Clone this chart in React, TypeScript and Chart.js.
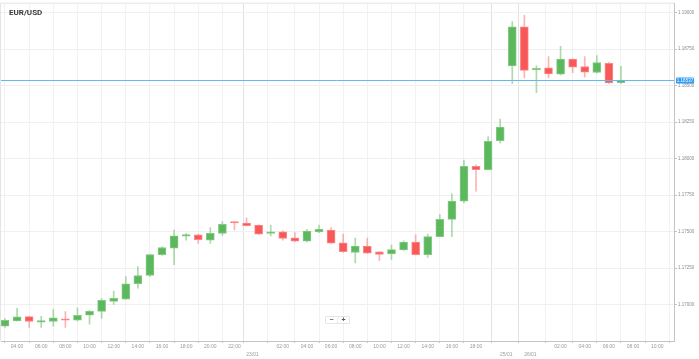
import React, { useEffect, useRef } from "react";
import { Chart, registerables } from "chart.js";

Chart.register(...registerables);

// Hourly candles (22/01 03:00 -> 26/01 07:00, weekend gap removed)
const times = [
  "03:00", "04:00", "05:00", "06:00", "07:00", "08:00", "09:00", "10:00", "11:00", "12:00",
  "13:00", "14:00", "15:00", "16:00", "17:00", "18:00", "19:00", "20:00", "21:00", "22:00", "23:00",
  "00:00", "01:00", "02:00", "03:00", "04:00", "05:00", "06:00", "07:00", "08:00", "09:00",
  "10:00", "11:00", "12:00", "13:00", "14:00", "15:00", "16:00", "17:00", "18:00", "19:00", "20:00",
  "22:00", "23:00",
  "00:00", "01:00", "02:00", "03:00", "04:00", "05:00", "06:00", "07:00",
];

const opens = [
  1.16853, 1.16889, 1.16918, 1.1688, 1.16884, 1.16902, 1.16893, 1.16927, 1.16954, 1.17022,
  1.17038, 1.17143, 1.17199, 1.17342, 1.17387, 1.17469, 1.17478, 1.17442, 1.17487, 1.17566, 1.17559,
  1.17544, 1.17487, 1.17498, 1.17457, 1.17435, 1.17498, 1.1751, 1.17423, 1.17357, 1.17401,
  1.17362, 1.17347, 1.17374, 1.17428, 1.17342, 1.17466, 1.17584, 1.17709, 1.17947, 1.17924, 1.18123,
  1.18635, 1.18903,
  1.18608, 1.18622, 1.18579, 1.18681, 1.18631, 1.1859, 1.18653, 1.1852,
];
const highs = [
  1.16905, 1.16975, 1.1692, 1.1692, 1.16966, 1.16952, 1.16977, 1.16961, 1.17041, 1.17092,
  1.17192, 1.1726, 1.17345, 1.17395, 1.1751, 1.17489, 1.17483, 1.17527, 1.17568, 1.17568, 1.17595,
  1.17546, 1.17544, 1.17505, 1.17493, 1.17516, 1.17544, 1.17527, 1.17483, 1.17455, 1.17455,
  1.17364, 1.17408, 1.17437, 1.17478, 1.17483, 1.17618, 1.17758, 1.1799, 1.17958, 1.18151, 1.18271,
  1.18939, 1.18982,
  1.18638, 1.18699, 1.18769, 1.18683, 1.18699, 1.18706, 1.1866, 1.18633,
];
const lows = [
  1.16844, 1.16886, 1.16844, 1.16844, 1.16853, 1.16844, 1.16889, 1.16866, 1.16905, 1.17002,
  1.17036, 1.17113, 1.17192, 1.17336, 1.17274, 1.17442, 1.17419, 1.17419, 1.17473, 1.17512, 1.17537,
  1.1748, 1.17471, 1.17442, 1.1743, 1.1743, 1.17493, 1.17419, 1.17357, 1.17285, 1.1735,
  1.17301, 1.1731, 1.17371, 1.1734, 1.17323, 1.17464, 1.17466, 1.17697, 1.17777, 1.1792, 1.18105,
  1.18513, 1.18552,
  1.18452, 1.18552, 1.18572, 1.18588, 1.18558, 1.18586, 1.18513, 1.18513,
];
const closes = [
  1.16893, 1.16916, 1.16884, 1.16884, 1.16909, 1.16893, 1.16927, 1.16954, 1.17029, 1.17043,
  1.17143, 1.17199, 1.17342, 1.17391, 1.17471, 1.1748, 1.17444, 1.17489, 1.1755, 1.17559, 1.17541,
  1.17483, 1.17498, 1.17453, 1.17435, 1.17503, 1.17516, 1.17421, 1.17362, 1.17401, 1.17353,
  1.17344, 1.17376, 1.17428, 1.17342, 1.17466, 1.17584, 1.17709, 1.17947, 1.17924, 1.18119, 1.18216,
  1.18903, 1.18604,
  1.18615, 1.18581, 1.18681, 1.18626, 1.18592, 1.18658, 1.18518, 1.18537,
];

// X axis tick labels (positions are candle indices)
const hourTickPositions = [1, 3, 5, 7, 9, 11, 13, 15, 17, 19, 23, 25, 27, 29, 31, 33, 35, 37, 39, 46, 48, 50, 52, 54];
const hourTickLabels = [
  "04:00", "06:00", "08:00", "10:00", "12:00", "14:00", "16:00", "18:00", "20:00", "22:00",
  "02:00", "04:00", "06:00", "08:00", "10:00", "12:00", "14:00", "16:00", "18:00",
  "02:00", "04:00", "06:00", "08:00", "10:00",
];
const dayTickPositions = [20.5, 41.5, 43.5];
const dayTickLabels = ["23/01", "25/01", "26/01"];

const yTicks = [1.17, 1.1725, 1.175, 1.1775, 1.18, 1.1825, 1.185, 1.1875, 1.19];

const UP = "#5cb85c";
const UP_EDGE = "#86c986";
const UP_WICK = "rgba(92,184,92,0.5)";
const DOWN = "#f95858";
const DOWN_EDGE = "#fa8a8a";
const DOWN_WICK = "rgba(249,88,88,0.45)";

export default function App() {
  const canvasRef = useRef<HTMLCanvasElement | null>(null);

  useEffect(() => {
    document.body.style.margin = "0";
    const canvas = canvasRef.current;
    if (!canvas) return;

    const isUp = closes.map((c, i) => c >= opens[i]);
    const lastClose = closes[closes.length - 1];

    const tickMap = new Map<number, string | string[]>();
    hourTickPositions.forEach((p, i) => tickMap.set(p, hourTickLabels[i]));
    dayTickPositions.forEach((p, i) => tickMap.set(p, ["", dayTickLabels[i]]));
    const allTicks = [...hourTickPositions, ...dayTickPositions].sort((a, b) => a - b);

    const framePlugin = {
      id: "frame",
      beforeDraw(chart: any) {
        const { ctx, chartArea } = chart;
        ctx.save();
        ctx.fillStyle = "#ffffff";
        ctx.fillRect(0, 0, chart.width, chart.height);
        ctx.strokeStyle = "#e4e4e4";
        ctx.lineWidth = 1;
        ctx.beginPath();
        ctx.moveTo(chartArea.left - 0.5, chartArea.bottom);
        ctx.lineTo(chartArea.left - 0.5, chartArea.top - 0.5);
        ctx.lineTo(chartArea.right, chartArea.top - 0.5);
        ctx.stroke();
        ctx.restore();
      },
    };

    const priceLinePlugin = {
      id: "priceLine",
      afterDraw(chart: any) {
        const { ctx, chartArea, scales } = chart;
        const y = Math.round(scales.y.getPixelForValue(lastClose)) + 0.5;
        ctx.save();
        ctx.strokeStyle = "#62b8f0";
        ctx.lineWidth = 1;
        ctx.beginPath();
        ctx.moveTo(chartArea.left, y);
        ctx.lineTo(chartArea.right, y);
        ctx.stroke();
        const bx = chartArea.right + 2;
        const bw = 18;
        const bh = 6;
        ctx.fillStyle = "#2e9cf2";
        ctx.beginPath();
        ctx.roundRect(bx, y - bh / 2, bw, bh, 1);
        ctx.fill();
        ctx.fillStyle = "#ffffff";
        ctx.font = "4.5px 'Liberation Sans', Arial, sans-serif";
        ctx.textAlign = "center";
        ctx.textBaseline = "middle";
        ctx.fillText(lastClose.toFixed(5), bx + bw / 2, y + 0.3);
        ctx.restore();
      },
    };

    const chart = new Chart(canvas, {
      type: "bar",
      data: {
        datasets: [
          {
            label: "body",
            data: times.map((_, i) => ({ x: i, y: [opens[i], closes[i]] })) as any,
            backgroundColor: isUp.map((u) => (u ? UP : DOWN)),
            borderColor: isUp.map((u) => (u ? UP_EDGE : DOWN_EDGE)),
            borderWidth: 1,
            borderSkipped: false,
            barThickness: 8,
            minBarLength: 1.5,
            grouped: false,
          } as any,
          {
            label: "wick",
            data: times.map((_, i) => ({ x: i, y: [lows[i], highs[i]] })) as any,
            backgroundColor: isUp.map((u) => (u ? UP_WICK : DOWN_WICK)),
            borderWidth: 0,
            borderSkipped: false,
            barThickness: 1,
            grouped: false,
          } as any,
        ],
      },
      options: {
        animation: false,
        responsive: false,
        maintainAspectRatio: false,
        devicePixelRatio: 1,
        layout: { padding: { left: 1, top: 1, right: 0, bottom: 0 } },
        plugins: {
          legend: { display: false },
          tooltip: { enabled: false },
          title: { display: false },
        },
        scales: {
          x: {
            type: "linear",
            min: -0.331,
            max: 55.39,
            offset: false,
            afterBuildTicks: (scale: any) => {
              scale.ticks = allTicks.map((v) => ({ value: v }));
            },
            afterFit: (scale: any) => {
              scale.height = 18;
            },
            ticks: {
              autoSkip: false,
              maxRotation: 0,
              minRotation: 0,
              padding: 0,
              color: "#9a9a9a",
              font: { family: "'Liberation Sans', Arial, sans-serif", size: 5, lineHeight: 1.5 },
              callback: (value: any) => {
                const v = Number(value);
                for (const [k, lbl] of tickMap) {
                  if (Math.abs(k - v) < 1e-6) return lbl;
                }
                return "";
              },
            },
            grid: {
              drawTicks: true,
              tickLength: 2,
              color: (ctx: any) => {
                const v = ctx.tick ? ctx.tick.value : 0;
                return dayTickPositions.some((d) => Math.abs(d - v) < 1e-6) ? "#e2e2e2" : "#f2f2f2";
              },
              tickColor: "#c4c4c4",
            },
            border: { display: true, color: "#c4c4c4" },
          },
          y: {
            type: "linear",
            position: "right",
            min: 1.167506,
            max: 1.190612,
            afterBuildTicks: (scale: any) => {
              scale.ticks = yTicks.map((v) => ({ value: v }));
            },
            afterFit: (scale: any) => {
              scale.width = 25;
            },
            ticks: {
              padding: 1,
              color: "#8c8c8c",
              font: { family: "'Liberation Sans', Arial, sans-serif", size: 4.5 },
              callback: (value: any) => Number(value).toFixed(5),
            },
            grid: {
              drawTicks: true,
              tickLength: 3,
              color: "#f0f0f0",
              tickColor: "#c4c4c4",
            },
            border: { display: true, color: "#c4c4c4" },
          },
        },
      } as any,
      plugins: [framePlugin, priceLinePlugin],
    });

    return () => {
      chart.destroy();
    };
  }, []);

  return (
    <div style={{ position: "absolute", left: 0, top: 0, width: 699, height: 359, background: "#fff" }}>
      <canvas ref={canvasRef} width={699} height={359} style={{ display: "block", width: 699, height: 359 }} />
      <div
        style={{
          position: "absolute",
          left: 9,
          top: 8.6,
          fontFamily: "Roboto, 'Liberation Sans', sans-serif",
          fontWeight: 700,
          fontSize: 8,
          lineHeight: "8px",
          color: "#3a3a3a",
          whiteSpace: "nowrap",
        }}
      >
        EUR/USD
      </div>
      <div
        style={{
          position: "absolute",
          left: 325,
          top: 316,
          width: 25,
          height: 8,
          boxSizing: "border-box",
          border: "1px solid #e6e6e6",
          borderRadius: 1,
          background: "#fff",
          display: "flex",
          fontFamily: "'Liberation Sans', Arial, sans-serif",
          fontWeight: 700,
          fontSize: 7,
          lineHeight: "6px",
          color: "#555",
        }}
      >
        <div style={{ flex: 1, textAlign: "center", borderRight: "1px solid #eeeeee" }}>−</div>
        <div style={{ flex: 1, textAlign: "center" }}>+</div>
      </div>
    </div>
  );
}
